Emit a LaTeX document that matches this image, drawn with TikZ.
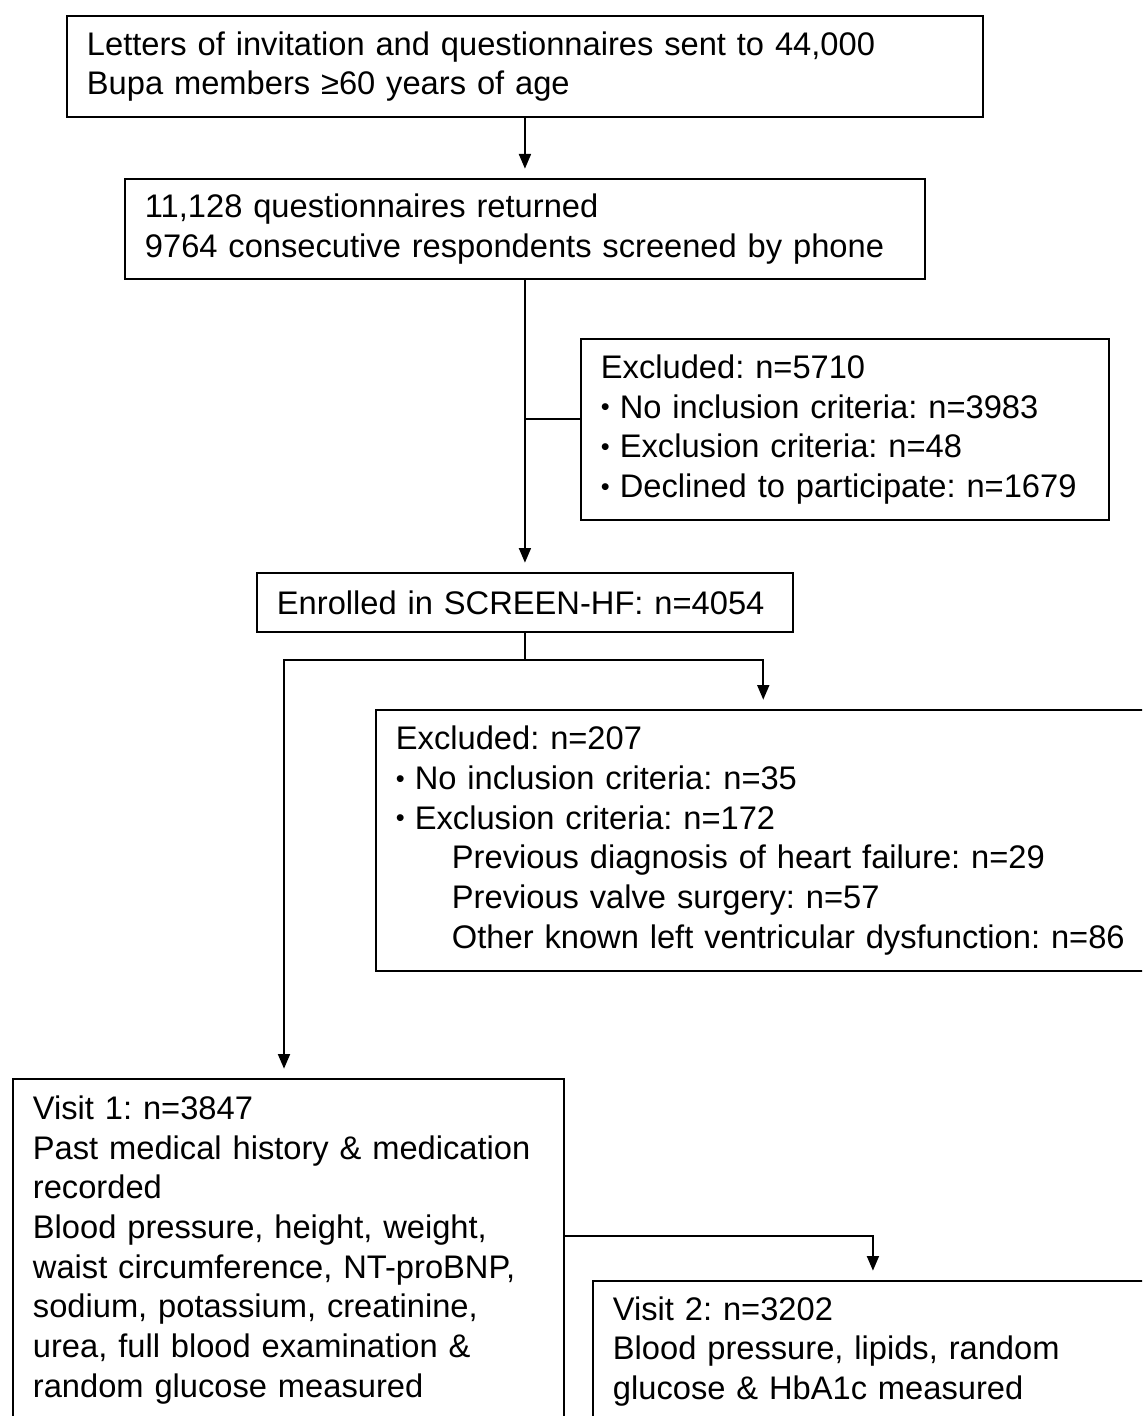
\documentclass[tikz,border=0pt]{standalone}
\usepackage{fontspec}
\setmainfont{Liberation Sans}
\usetikzlibrary{arrows.meta}
\newcommand{\mainsize}{\fontsize{24.5pt}{29.8pt}\selectfont\frenchspacing}
\newcommand{\subind}{\hspace*{42pt}}
\newcommand{\bul}{\raisebox{1.6pt}{\fontsize{19pt}{19pt}\selectfont •}\hspace{7.5pt}}
\begin{document}
\begin{tikzpicture}[x=0.75pt,y=-0.75pt,
  box/.style={draw, line width=1.4pt, anchor=north west, align=left,
    inner xsep=15pt, inner ysep=0pt, font=\mainsize},
  conn/.style={line width=1.4pt},
  arr/.style={conn, -{Triangle[length=11pt,width=9pt]}, shorten >=7pt}]
\useasboundingbox (0,0) rectangle (1142,1416);
\clip (0,0) rectangle (1142,1416);
\fill[white] (0,0) rectangle (1142,1416);

\node[box, text width=657pt, minimum height=75.75pt] (b1) at (66,15)
  {Letters of invitation and questionnaires sent to 44,000\\Bupa members ≥60 years of age};
\node[box, text width=570pt, minimum height=75pt] (b2) at (124,178)
  {11,128 questionnaires returned\\9764 consecutive respondents screened by phone};
\node[box, text width=366pt, minimum height=135.75pt] (ex1) at (580,338)
  {Excluded: n=5710\\\bul No inclusion criteria: n=3983\\\bul Exclusion criteria: n=48\\\bul Declined to participate: n=1679};
\node[box, text width=372pt, minimum height=44.25pt] (b3) at (256,572)
  {Enrolled in SCREEN-HF: n=4054};
\node[box, text width=551pt, minimum height=195.75pt] (ex2) at (375,709)
  {Excluded: n=207\\\bul No inclusion criteria: n=35\\\bul Exclusion criteria: n=172\\
   \subind Previous diagnosis of heart failure: n=29\\
   \subind Previous valve surgery: n=57\\
   \subind Other known left ventricular dysfunction: n=86};
\node[box, text width=383pt, minimum height=256.5pt] (v1) at (12,1078)
  {Visit 1: n=3847\\Past medical history \& medication\\recorded\\Blood pressure, height, weight,\\waist circumference, NT-proBNP,\\sodium, potassium, creatinine,\\urea, full blood examination \&\\random glucose measured};
\node[box, text width=390pt, minimum height=105.75pt] (v2) at (592,1280)
  {Visit 2: n=3202\\Blood pressure, lipids, random\\glucose \& HbA1c measured};

\coordinate (br) at (b2.south |- 0,419);
\coordinate (j) at (b3.south |- 0,660);
\coordinate (v1top) at (284,1078);
\coordinate (v1out) at (v1.east |- 0,1236);

\draw[arr] (b1.south) -- (b2.north);
\draw[arr] (b2.south) -- (b3.north);
\draw[conn] (br) -- (br -| ex1.west);
\draw[conn] (b3.south) -- (j);
\draw[arr] (j) -| (ex2.north);
\draw[arr] (j) -| (v1top);
\draw[arr] (v1out) -| (v2.north);
\end{tikzpicture}
\end{document}
